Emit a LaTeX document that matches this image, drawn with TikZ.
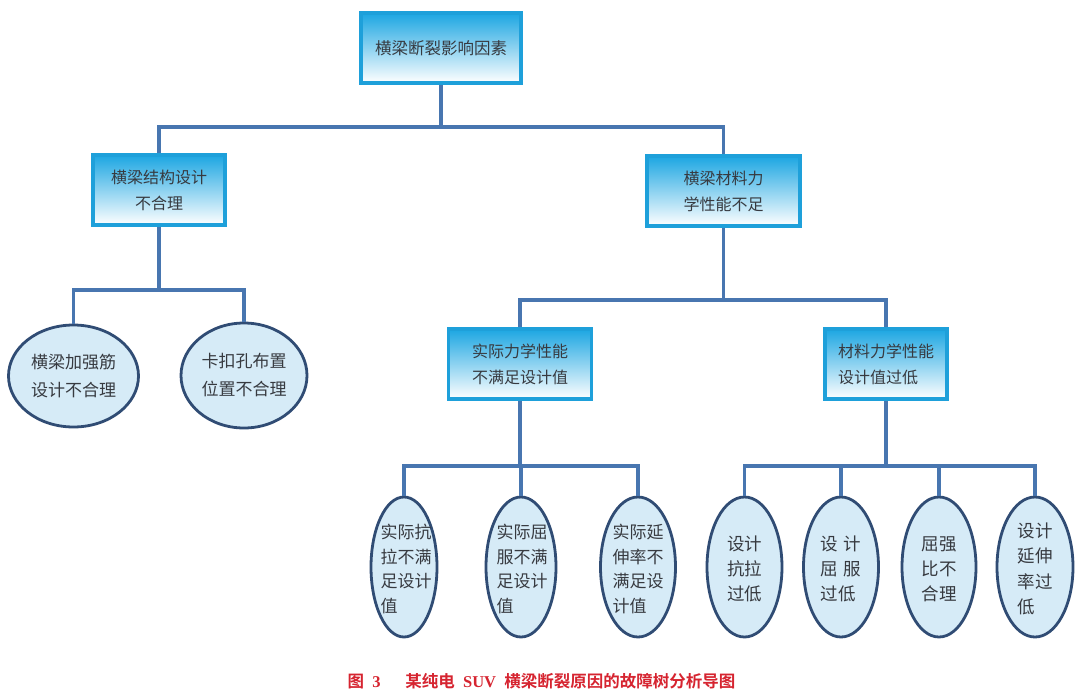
\documentclass[tikz,border=0pt]{standalone}
\usepackage{fontspec}
\setmainfont{Noto Sans CJK SC}
\newfontfamily\cjkbold{Noto Sans CJK SC Bold}
\newfontfamily\latinserif{Liberation Serif}
\usetikzlibrary{shapes.geometric}
\definecolor{boxborder}{RGB}{30,160,218}
\definecolor{boxtop}{RGB}{28,166,226}
\definecolor{boxmid}{RGB}{178,222,244}
\definecolor{connblue}{RGB}{72,118,176}
\definecolor{leaffill}{RGB}{214,235,247}
\definecolor{leafborder}{RGB}{48,76,116}
\definecolor{txtgray}{RGB}{55,58,64}
\definecolor{capred}{RGB}{214,36,48}
\tikzset{
  boxnode/.style={draw=boxborder, line width=3.2pt, rectangle, top color=boxtop, middle color=boxmid, bottom color=white, shading angle=0, text=txtgray, inner sep=0pt, minimum height=70pt, align=center, font=\fontsize{16}{26}\selectfont},
  leaf/.style={draw=leafborder, fill=leaffill, line width=2.8pt, ellipse, inner sep=0pt},
  leaftext/.style={text=txtgray, inner sep=0pt, align=left, font=\fontsize{17}{24.5}\selectfont},
  conn/.style={draw=connblue, line width=3.4pt, line join=miter, line cap=butt}
}
\begin{document}
\begin{tikzpicture}[x=1pt,y=-1pt]
\useasboundingbox[fill=white] (0,0) rectangle (1080,694);
% bus coordinates
\coordinate (bus0) at (0,127);
\coordinate (bus1) at (0,290);
\coordinate (bus2) at (0,300);
\coordinate (bus3) at (0,466);
% boxes
\node[boxnode, minimum width=160pt, font=\fontsize{16.5}{26}\selectfont] (root) at (441,48) {横梁断裂影响因素};
\node[boxnode, minimum width=132pt] (a) at (159,190) {横梁结构设计\\不合理};
\node[boxnode, minimum width=153pt] (b) at (723.5,191) {横梁材料力\\学性能不足};
\node[boxnode, minimum width=143pt] (c) at (520,364) {实际力学性能\\不满足设计值};
\node[boxnode, minimum width=122pt, align=left] (d) at (886,364) {材料力学性能\\设计值过低};
% left ellipses
\node[leaf, minimum width=130pt, minimum height=102pt] (a1) at (73.5,376) {};
\node[leaftext, align=center, font=\fontsize{17}{28}\selectfont] at (a1) {横梁加强筋\\设计不合理};
\node[leaf, minimum width=126pt, minimum height=105pt] (a2) at (244,375.5) {};
\node[leaftext, align=center, font=\fontsize{17}{28}\selectfont] at (a2) {卡扣孔布置\\位置不合理};
% bottom ellipses
\node[leaf, minimum width=66pt, minimum height=140pt] (c1) at (404,567) {};
\node[leaftext] at ([xshift=2pt,yshift=-2pt]c1.center) {实际抗\\拉不满\\足设计\\值};
\node[leaf, minimum width=70pt, minimum height=140pt] (c2) at (521,567) {};
\node[leaftext] at ([xshift=1pt,yshift=-2pt]c2.center) {实际屈\\服不满\\足设计\\值};
\node[leaf, minimum width=75pt, minimum height=140pt] (c3) at (638,567) {};
\node[leaftext] at ([yshift=-2pt]c3.center) {实际延\\伸率不\\满足设\\计值};
\node[leaf, minimum width=75pt, minimum height=140pt] (d1) at (744.5,567) {};
\node[leaftext, font=\fontsize{17.5}{25}\selectfont] at ([yshift=-2pt]d1.center) {设计\\抗拉\\过低};
\node[leaf, minimum width=75pt, minimum height=140pt] (d2) at (841,567) {};
\node[leaftext, font=\fontsize{17.5}{25}\selectfont] at ([yshift=-2pt]d2.center) {设\,\,计\\屈\,\,服\\过低};
\node[leaf, minimum width=74pt, minimum height=140pt] (d3) at (939,567) {};
\node[leaftext, font=\fontsize{17.5}{25}\selectfont] at ([yshift=-2pt]d3.center) {屈强\\比不\\合理};
\node[leaf, minimum width=76pt, minimum height=140pt] (d4) at (1035,567) {};
\node[leaftext, font=\fontsize{17.5}{25.5}\selectfont] at ([yshift=-2pt]d4.center) {设计\\延伸\\率过\\低};
% connectors
\draw[conn] (root.south) -- (root.south |- bus0);
\draw[conn] (a.north) |- (root.south |- bus0) -| (b.north);
\draw[conn] (a.south) -- (a.south |- bus1);
\draw[conn] (a1.north) |- (a.south |- bus1) -| (a2.north);
\draw[conn] (b.south) -- (b.south |- bus2);
\draw[conn] (c.north) |- (b.south |- bus2) -| (d.north);
\draw[conn] (c.south) -- (c.south |- bus3);
\draw[conn] (c1.north) |- (c.south |- bus3) -| (c3.north);
\draw[conn] (c2.north) -- (c2.north |- bus3);
\draw[conn] (d.south) -- (d.south |- bus3);
\draw[conn] (d1.north) |- (d.south |- bus3) -| (d4.north);
\draw[conn] (d2.north) -- (d2.north |- bus3);
\draw[conn] (d3.north) -- (d3.north |- bus3);
% caption
\node[text=capred, inner sep=0pt, font=\fontsize{16.5}{18}\selectfont] (cap) at (541.5,681) {\cjkbold 图\enspace{\latinserif\bfseries 3}\quad\enspace 某纯电\enspace{\latinserif\bfseries SUV}\enspace 横梁断裂原因的故障树分析导图};
\end{tikzpicture}
\end{document}
